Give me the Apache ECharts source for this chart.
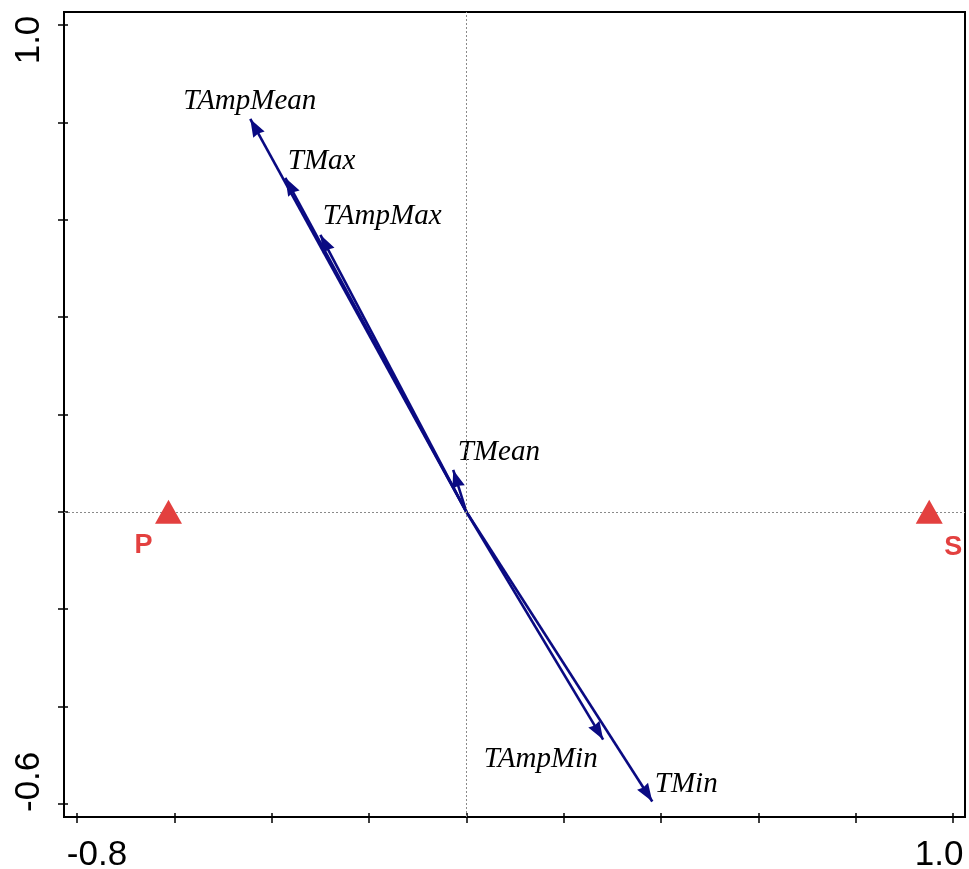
<!DOCTYPE html>
<html><head><meta charset="utf-8">
<script src="https://cdn.jsdelivr.net/npm/echarts@6/dist/echarts.min.js"></script>
<style>html,body{margin:0;padding:0;background:#fff}#c{width:969px;height:869px}</style>
</head><body><div id="c"></div>
<script>
// Environmental variable arrows (biplot scores)
const varNames = ['TAmpMean', 'TMax', 'TAmpMax', 'TMean', 'TAmpMin', 'TMin'];
const varX = [-0.444, -0.372, -0.300, -0.027, 0.281, 0.382];
const varY = [0.807, 0.686, 0.569, 0.086, -0.468, -0.595];
// Sites / groups
const siteNames = ['P', 'S'];
const siteX = [-0.612, 0.951];
const siteY = [0.0, 0.0];
// Axis ticks and tick labels
const xTicks = [-0.8, -0.6, -0.4, -0.2, 0, 0.2, 0.4, 0.6, 0.8, 1.0];
const yTicks = [-0.6, -0.4, -0.2, 0, 0.2, 0.4, 0.6, 0.8, 1.0];
const xTickLabels = [-0.8, 1.0];
const yTickLabels = [-0.6, 1.0];

const X_MIN = -0.8267, X_MAX = 1.0245, Y_MIN = -0.627, Y_MAX = 1.0267;

const varLabelStyle = {
  TAmpMean: { align: 'center', offset: [0, -17] },
  TMax: { align: 'left', offset: [3, -16] },
  TAmpMax: { align: 'left', offset: [3, -18] },
  TMean: { align: 'left', offset: [5, -17] },
  TAmpMin: { align: 'right', offset: [-5, 20] },
  TMin: { align: 'left', offset: [3, -17] }
};
const siteLabelOffset = { P: [-25, 34], S: [24, 36] };

const arrowColor = '#0a0a82';
const siteColor = '#e3403f';
const HEAD_W = 13, HEAD_L = 18;
const headPath = 'path://M6.5,0 L13,18 L6.5,16.5 L0,18 Z';

const chart = echarts.init(document.getElementById('c'), null, { renderer: 'canvas' });

const fmt = v => Number(v).toFixed(1);
const tickStyle = { color: '#000', width: 1.5 };

// arrowhead orientation derived from each vector's direction
const heads = varNames.map((n, i) => {
  const ang = Math.atan2(varY[i], varX[i]);
  const ux = Math.cos(ang), uy = -Math.sin(ang); // screen direction
  return {
    name: n, value: [varX[i], varY[i]],
    symbolRotate: ang * 180 / Math.PI - 90,
    symbolOffset: [-ux * HEAD_L / 2, -uy * HEAD_L / 2]
  };
});

const option = {
  animation: false,
  backgroundColor: '#fff',
  grid: { left: 64, right: 4, top: 12, bottom: 52, show: true, borderColor: '#000', borderWidth: 2, backgroundColor: 'transparent', outerBoundsMode: 'none', containLabel: false },
  xAxis: [{
    type: 'value', min: X_MIN, max: X_MAX, position: 'bottom',
    axisLine: { show: false, onZero: false },
    splitLine: { show: false },
    axisTick: { show: true, customValues: xTicks, length: 6, lineStyle: tickStyle },
    axisLabel: {
      show: true, customValues: xTickLabels, margin: 21,
      formatter: v => (v < 0 ? '{a|' + fmt(v) + '}' : '{b|' + fmt(v) + '}'),
      rich: {
        a: { fontFamily: 'Liberation Sans', fontSize: 35, color: '#000', padding: [0, 0, 0, 40] },
        b: { fontFamily: 'Liberation Sans', fontSize: 35, color: '#000', padding: [0, 28, 0, 0] }
      }
    }
  }, {
    type: 'value', min: X_MIN, max: X_MAX, position: 'bottom',
    axisLine: { show: false, onZero: false }, splitLine: { show: false },
    axisTick: { show: true, inside: true, customValues: xTicks, length: 4, lineStyle: tickStyle },
    axisLabel: { show: false }
  }],
  yAxis: [{
    type: 'value', min: Y_MIN, max: Y_MAX, position: 'left',
    axisLine: { show: false, onZero: false },
    splitLine: { show: false },
    axisTick: { show: true, customValues: yTicks, length: 6, lineStyle: tickStyle },
    axisLabel: {
      show: true, customValues: yTickLabels, margin: 17, rotate: 90,
      formatter: v => (v < 0 ? '{a|' + fmt(v) + '}' : '{b|' + fmt(v) + '}'),
      rich: {
        a: { fontFamily: 'Liberation Sans', fontSize: 35, color: '#000', padding: [0, 0, 0, 44] },
        b: { fontFamily: 'Liberation Sans', fontSize: 35, color: '#000', padding: [0, 30, 0, 0] }
      }
    }
  }, {
    type: 'value', min: Y_MIN, max: Y_MAX, position: 'left',
    axisLine: { show: false, onZero: false }, splitLine: { show: false },
    axisTick: { show: true, inside: true, customValues: yTicks, length: 4, lineStyle: tickStyle },
    axisLabel: { show: false }
  }],
  series: [
    {
      type: 'scatter', z: 1, data: [], silent: true,
      markLine: {
        silent: true, symbol: 'none', label: { show: false },
        lineStyle: { type: [2, 2], color: '#8a8a8a', width: 1 },
        data: [{ xAxis: 0 }, { yAxis: 0 }]
      }
    },
    {
      type: 'lines', coordinateSystem: 'cartesian2d', z: 3,
      symbol: 'none',
      lineStyle: { color: arrowColor, width: 2.6, opacity: 1 },
      data: varNames.map((n, i) => ({ name: n, coords: [[0, 0], [varX[i], varY[i]]] }))
    },
    {
      type: 'scatter', z: 4, symbol: headPath, symbolSize: [HEAD_W, HEAD_L], symbolKeepAspect: false,
      itemStyle: { color: arrowColor, opacity: 1 },
      data: heads
    },
    {
      type: 'scatter', z: 4, symbolSize: 1,
      itemStyle: { color: 'rgba(0,0,0,0)', opacity: 1 },
      data: varNames.map((n, i) => ({
        name: n, value: [varX[i], varY[i]],
        label: {
          show: true, formatter: n, position: [0, 0], verticalAlign: 'middle',
          align: varLabelStyle[n].align, offset: varLabelStyle[n].offset,
          fontFamily: 'Liberation Serif', fontStyle: 'italic', fontSize: 29, color: '#000', opacity: 1
        }
      }))
    },
    {
      type: 'scatter', z: 5, symbol: 'triangle', symbolSize: [27, 24],
      itemStyle: { color: siteColor, opacity: 1 },
      data: siteNames.map((n, i) => ({
        name: n, value: [siteX[i], siteY[i]],
        label: {
          show: true, formatter: n, position: 'inside', align: 'center', verticalAlign: 'middle',
          offset: siteLabelOffset[n], opacity: 1,
          fontFamily: 'Liberation Sans', fontWeight: 'bold', fontSize: 27, color: siteColor
        }
      }))
    }
  ]
};
chart.setOption(option);
</script>
</body></html>
